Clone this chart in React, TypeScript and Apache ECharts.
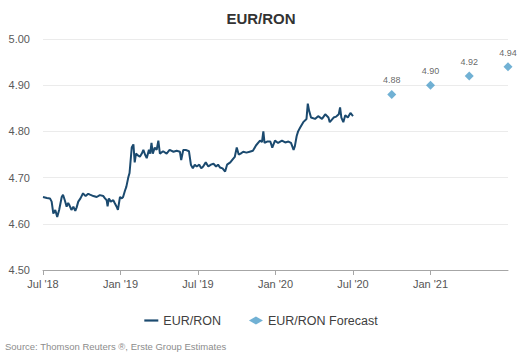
import React, { useEffect, useRef } from "react";
import * as echarts from "echarts";

// x positions are months since Jul 2018
const tickMonths = [0, 6, 12, 18, 24, 30];
const tickLabels = ["Jul '18", "Jan '19", "Jul '19", "Jan '20", "Jul '20", "Jan '21"];

const spotMonths = [
  0, 0.3, 0.54, 0.67, 0.8, 0.95, 1.1, 1.25, 1.45, 1.55, 1.7, 1.83, 1.95, 2.05, 2.2, 2.35, 2.5, 2.6, 2.73, 2.9,
  3.1, 3.3, 3.5, 3.64, 3.9, 4.16, 4.4, 4.67, 4.8, 4.93, 5.0, 5.1, 5.25, 5.44, 5.55, 5.7, 5.8, 5.96, 6.1, 6.2,
  6.35, 6.45, 6.6, 6.7, 6.87, 7.0, 7.1, 7.2, 7.35, 7.5, 7.65, 7.77, 7.9, 8.03, 8.2, 8.3, 8.4, 8.5, 8.65, 8.8,
  8.93, 9.05, 9.3, 9.57, 9.8, 10.1, 10.35, 10.6, 10.7, 10.86, 11.05, 11.3, 11.45, 11.6, 11.75, 11.9, 12.1, 12.25,
  12.4, 12.6, 12.8, 13.0, 13.2, 13.4, 13.55, 13.7, 13.9, 14.1, 14.25, 14.5, 14.7, 14.85, 15.0, 15.15, 15.3,
  15.5, 15.75, 16.0, 16.25, 16.5, 16.8, 16.95, 17.06, 17.15, 17.35, 17.6, 17.75, 17.96, 18.2, 18.5, 18.75,
  19.0, 19.2, 19.4, 19.5, 19.64, 19.75, 19.9, 20.15, 20.4, 20.5, 20.6, 20.75, 21.06, 21.3, 21.6, 21.85, 22.1,
  22.2, 22.5, 22.7, 22.9, 23.0, 23.1, 23.25, 23.4, 23.6, 23.8, 24.0
];
const spotValues = [
  4.658, 4.656, 4.655, 4.648, 4.622, 4.63, 4.615, 4.63, 4.658, 4.663, 4.65, 4.637, 4.645, 4.64, 4.63, 4.637, 4.628, 4.635, 4.648, 4.655,
  4.666, 4.66, 4.665, 4.663, 4.66, 4.658, 4.662, 4.66, 4.655, 4.651, 4.638, 4.655, 4.648, 4.651, 4.645, 4.637, 4.63, 4.658, 4.655, 4.658,
  4.672, 4.68, 4.7, 4.71, 4.765, 4.772, 4.733, 4.752, 4.748, 4.745, 4.752, 4.76, 4.75, 4.742, 4.76, 4.752, 4.775, 4.752, 4.765, 4.76,
  4.78, 4.752, 4.757, 4.752, 4.76, 4.756, 4.758, 4.756, 4.738, 4.76, 4.76, 4.757, 4.728, 4.72, 4.728, 4.724, 4.728, 4.72,
  4.724, 4.733, 4.724, 4.728, 4.73, 4.724, 4.728, 4.722, 4.72, 4.713, 4.728, 4.733, 4.74, 4.745, 4.765, 4.75, 4.752,
  4.756, 4.754, 4.756, 4.758, 4.77, 4.78, 4.777, 4.8, 4.775, 4.778, 4.778, 4.765, 4.78, 4.775, 4.78, 4.776,
  4.778, 4.775, 4.76, 4.768, 4.79, 4.8, 4.808, 4.82, 4.827, 4.86, 4.845, 4.83, 4.827, 4.833, 4.827, 4.837, 4.83,
  4.82, 4.83, 4.832, 4.837, 4.852, 4.83, 4.82, 4.835, 4.83, 4.84, 4.833
];

const forecastMonths = [27, 30, 33, 36];
const forecastValues = [4.88, 4.9, 4.92, 4.94];

const FONT = "'Liberation Sans', Arial, sans-serif";

export default function App() {
  const ref = useRef<HTMLDivElement>(null);
  useEffect(() => {
    if (!ref.current) return;
    const chart = echarts.init(ref.current, undefined, { renderer: "svg" });
    chart.setOption({
      animation: false,
      backgroundColor: "#ffffff",
      textStyle: { fontFamily: FONT },
      title: {
        text: "EUR/RON",
        left: "center",
        top: 6,
        textStyle: { fontSize: 15, fontWeight: "bold", color: "#333333", fontFamily: FONT },
      },
      grid: { left: 43, right: 14, top: 39, bottom: 88, containLabel: false },
      xAxis: {
        type: "value",
        min: 0,
        max: 36,
        interval: 6,
        axisLine: { show: true, lineStyle: { color: "#a6a6a6", width: 1 } },
        axisTick: { show: true, customValues: tickMonths, length: 5, lineStyle: { color: "#a6a6a6" } },
        axisLabel: {
          customValues: tickMonths,
          formatter: (v: number) => tickLabels[tickMonths.indexOf(Math.round(v))] ?? "",
          color: "#555555",
          fontSize: 11,
          margin: 8,
          fontFamily: FONT,
        },
        splitLine: { show: false },
      },
      yAxis: {
        type: "value",
        min: 4.5,
        max: 5.0,
        interval: 0.1,
        axisLine: { show: false },
        axisTick: { show: false },
        axisLabel: {
          formatter: (v: number) => v.toFixed(2),
          color: "#595959",
          fontSize: 11,
          margin: 13,
          fontFamily: FONT,
        },
        splitLine: { show: true, lineStyle: { color: "#ebebeb", width: 1 } },
      },
      legend: {
        bottom: 26,
        left: "center",
        itemWidth: 14,
        itemHeight: 8,
        itemGap: 28,
        textStyle: { fontSize: 12.5, color: "#404040", fontFamily: FONT },
        data: [
          { name: "EUR/RON", icon: "path://M0,0 L14,0 L14,2.2 L0,2.2 Z", itemStyle: { color: "#1b4a6f" } },
          { name: "EUR/RON Forecast", icon: "diamond" },
        ],
      },
      graphic: [
        {
          type: "text",
          left: 5,
          top: 341,
          style: {
            text: "Source: Thomson Reuters ®, Erste Group Estimates",
            fontSize: 9.5,
            fill: "#8c8c8c",
            fontFamily: FONT,
          },
        },
      ],
      series: [
        {
          name: "EUR/RON",
          type: "line",
          data: spotMonths.map((m, i) => [m, spotValues[i]]),
          showSymbol: false,
          symbol: "none",
          lineStyle: { color: "#1b4a6f", width: 2 },
          itemStyle: { color: "#1b4a6f" },
        },
        {
          name: "EUR/RON Forecast",
          type: "scatter",
          data: forecastMonths.map((m, i) => [m, forecastValues[i]]),
          symbol: "diamond",
          symbolSize: 9,
          itemStyle: { color: "#4e9ec9" },
          label: {
            show: true,
            position: "top",
            distance: 5,
            formatter: (p: any) => p.value[1].toFixed(2),
            fontSize: 9,
            color: "#404040",
            fontFamily: FONT,
          },
        },
      ],
    });
    return () => chart.dispose();
  }, []);
  return <div ref={ref} style={{ width: 522, height: 358, position: "absolute", left: 0, top: 0 }} />;
}
